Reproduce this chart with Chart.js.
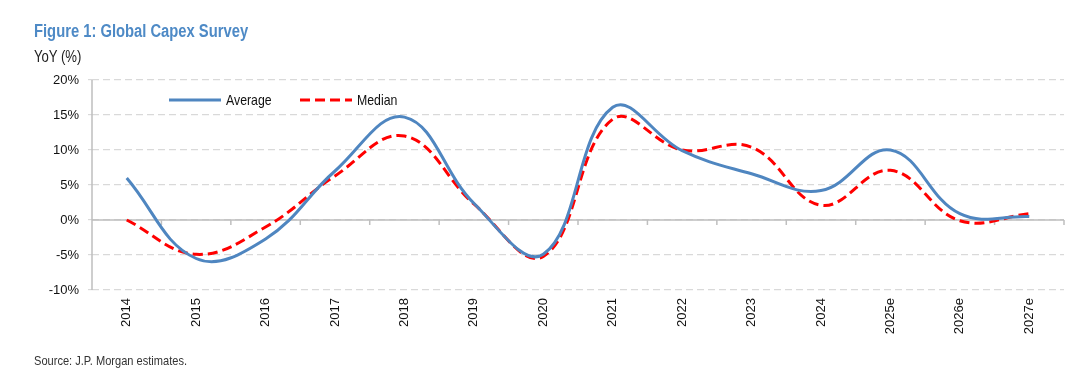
<!DOCTYPE html>
<html>
<head>
<meta charset="utf-8">
<script src="https://cdn.jsdelivr.net/npm/chart.js@4.4.1/dist/chart.umd.min.js"></script>
<style>
  html, body { margin: 0; padding: 0; background: #fff; }
  #wrap { position: relative; width: 1080px; height: 373px; overflow: hidden; }
  #chart { position: absolute; left: 0; top: 0; }
  .txt { position: absolute; left: 34px; white-space: nowrap; transform-origin: 0 0; }
  #title { color: #4e8ac6; font-weight: bold; }
  #ylab { color: #222; }
  #source { color: #333; }
</style>
</head>
<body>
<div id="wrap">
  <canvas id="chart" width="1080" height="373"></canvas>
  <div id="title" class="txt">Figure 1: Global Capex Survey</div>
  <div id="ylab" class="txt">YoY (%)</div>
  <div id="source" class="txt">Source: J.P. Morgan estimates.</div>
</div>
<script>
  const years = ['2014', '2015', '2016', '2017', '2018', '2019', '2020', '2021', '2022', '2023', '2024', '2025e', '2026e', '2027e'];
  const average = [6.0, -5.5, -2.7, 7.0, 14.7, 2.4, -4.9, 16.1, 9.9, 6.6, 4.2, 10.0, 0.9, 0.5];
  const median = [0.0, -4.9, -1.0, 6.3, 12.0, 2.3, -5.2, 14.4, 10.0, 10.4, 2.1, 7.1, -0.1, 0.9];
  const yTicks = [-10, -5, 0, 5, 10, 15, 20];

  // the original uses Arial Narrow; if it is missing, squeeze regular text instead
  function hasFont(name) {
    const c = document.createElement('canvas').getContext('2d');
    c.font = '20px monospace';
    const a = c.measureText('abcdefghijWMil').width;
    c.font = '20px "' + name + '", monospace';
    return c.measureText('abcdefghijWMil').width !== a;
  }
  const narrow = hasFont('Liberation Sans Narrow');
  const fam = narrow ? '"Liberation Sans Narrow", "Arial Narrow", sans-serif' : '"Liberation Sans", Arial, sans-serif';
  const squeeze = narrow ? 1 : 0.82;
  const tickSize = narrow ? 15 : 13;

  function placeText(id, size, baseline) {
    const el = document.getElementById(id);
    el.style.fontFamily = fam;
    el.style.fontSize = size + 'px';
    el.style.lineHeight = size + 'px';
    el.style.top = (baseline - 0.8465 * size) + 'px';
    el.style.transform = 'scaleX(' + squeeze + ')';
  }
  placeText('title', 18, 37.7);
  placeText('ylab', 16, 63);
  placeText('source', 13.5, 365);

  const blue = '#4f86c0';
  const red = '#ff0000';

  const axisLines = {
    id: 'axisLines',
    beforeDatasetsDraw(chart) {
      const { ctx, chartArea: a, scales } = chart;
      const y0 = scales.y.getPixelForValue(0);
      const n = years.length;
      ctx.save();
      ctx.strokeStyle = '#bfbfbf';
      ctx.lineWidth = 1.5;
      ctx.beginPath();
      ctx.moveTo(a.left, a.top);
      ctx.lineTo(a.left, a.bottom);
      ctx.moveTo(a.left, y0);
      ctx.lineTo(a.right, y0);
      for (let i = 1; i <= n; i++) {
        const x = a.left + i * (a.right - a.left) / n;
        ctx.moveTo(x, y0);
        ctx.lineTo(x, y0 + 5);
      }
      ctx.stroke();
      ctx.restore();
    }
  };

  function squeezedText(ctx, text, x, y) {
    ctx.save();
    ctx.translate(x, y);
    ctx.scale(squeeze, 1);
    ctx.fillText(text, 0, 0);
    ctx.restore();
  }

  const legendBox = {
    id: 'legendBox',
    afterDraw(chart) {
      const { ctx } = chart;
      const y = 100;
      ctx.save();
      ctx.font = '15px ' + fam;
      ctx.fillStyle = '#111';
      ctx.textBaseline = 'middle';
      ctx.lineWidth = 3;
      ctx.strokeStyle = blue;
      ctx.beginPath();
      ctx.moveTo(169, y);
      ctx.lineTo(221, y);
      ctx.stroke();
      squeezedText(ctx, 'Average', 226, y + 1);
      ctx.strokeStyle = red;
      ctx.setLineDash([10, 5]);
      ctx.beginPath();
      ctx.moveTo(300, y);
      ctx.lineTo(352, y);
      ctx.stroke();
      squeezedText(ctx, 'Median', 357, y + 1);
      ctx.restore();
    }
  };

  new Chart(document.getElementById('chart'), {
    type: 'line',
    data: {
      labels: years,
      datasets: [
        { label: 'Average', data: average, borderColor: blue, borderWidth: 3, pointRadius: 0, tension: 0.4, fill: false },
        { label: 'Median', data: median, borderColor: red, borderWidth: 3, borderDash: [10, 5], pointRadius: 0, tension: 0.4, fill: false }
      ]
    },
    options: {
      responsive: false,
      animation: false,
      layout: { padding: { left: 0, top: 80, right: 16, bottom: 0 } },
      plugins: { legend: { display: false }, tooltip: { enabled: false } },
      scales: {
        x: {
          offset: true,
          grid: { display: false, drawTicks: false },
          border: { display: false },
          ticks: {
            autoSkip: false, maxRotation: 90, minRotation: 90, padding: 8,
            color: '#111', font: { family: fam, size: tickSize }
          },
          afterFit(scale) { scale.height = 83; }
        },
        y: {
          min: yTicks[0],
          max: yTicks[yTicks.length - 1],
          afterBuildTicks(scale) { scale.ticks = yTicks.map(v => ({ value: v })); },
          grid: { color: '#d9d9d9', lineWidth: 1.2, tickLength: 4 },
          border: { display: false, dash: [7, 4] },
          ticks: {
            padding: 9, color: '#111', font: { family: fam, size: tickSize },
            callback: v => v + '%'
          },
          afterFit(scale) { scale.width = 92; }
        }
      }
    },
    plugins: [axisLines, legendBox]
  });
</script>
</body>
</html>
